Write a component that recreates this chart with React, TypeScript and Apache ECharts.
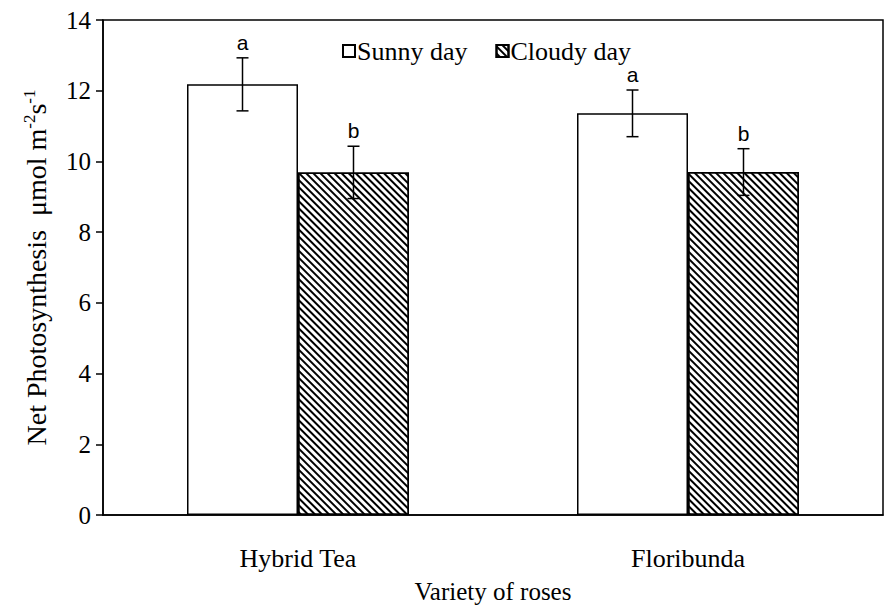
import React, { useEffect, useRef } from "react";
import * as echarts from "echarts";

const categories = ["Hybrid Tea", "Floribunda"];
const sunnyValues = [12.18, 11.36];
const sunnyErrors = [0.75, 0.66];
const sunnyLetters = ["a", "a"];
const cloudyValues = [9.69, 9.7];
const cloudyErrors = [0.74, 0.66];
const cloudyLetters = ["b", "b"];
const yTicks = { min: 0, max: 14, interval: 2 };

const SERIF = "Liberation Serif";
const SANS = "Liberation Sans";
const BAR_FRAC = 0.2846;

function errorSeries(values: number[], errors: number[], letters: string[], side: number) {
  return {
    type: "custom",
    silent: true,
    z: 10,
    data: values.map((v, i) => [i, v, errors[i]]),
    renderItem: (params: any, api: any) => {
      const idx = api.value(0);
      const v = api.value(1);
      const e = api.value(2);
      const letter = letters[params.dataIndex];
      const catW = api.size([1, 0])[0];
      const base = api.coord([idx, v]);
      const x = base[0] + side * catW * BAR_FRAC / 2;
      const top = api.coord([idx, v + e])[1];
      const bot = api.coord([idx, v - e])[1];
      const cap = 6;
      const ls = { stroke: "#000", lineWidth: 1.5 };
      return {
        type: "group",
        children: [
          { type: "line", shape: { x1: x, y1: top, x2: x, y2: bot }, style: ls },
          { type: "line", shape: { x1: x - cap, y1: top, x2: x + cap, y2: top }, style: ls },
          { type: "line", shape: { x1: x - cap, y1: bot, x2: x + cap, y2: bot }, style: ls },
          {
            type: "text",
            style: {
              text: letter,
              x: x,
              y: top - 5,
              align: "center",
              verticalAlign: "bottom",
              fontSize: 21,
              fontFamily: SANS,
              fill: "#000",
            },
          },
        ],
      };
    },
  };
}

export default function App() {
  const ref = useRef<HTMLDivElement>(null);
  useEffect(() => {
    if (!ref.current) return;
    const chart = echarts.init(ref.current, null, { renderer: "svg" });
    chart.setOption({
      animation: false,
      backgroundColor: "#fff",
      textStyle: { fontFamily: SERIF },
      grid: {
        left: 103,
        right: 4,
        top: 20,
        bottom: 94,
        outerBoundsMode: "none",
        containLabel: false,
        show: true,
        borderColor: "#000",
        borderWidth: 1.5,
        backgroundColor: "transparent",
      },
      legend: {
        data: ["Sunny day", "Cloudy day"],
        left: 337,
        top: 33,
        icon: "rect",
        itemWidth: 12,
        itemHeight: 12,
        itemGap: 28,
        textStyle: { fontFamily: SERIF, fontSize: 26, color: "#000", padding: [0, 0, 0, -3] },
      },
      xAxis: {
        type: "category",
        data: categories,
        name: "Variety of roses",
        nameLocation: "middle",
        nameGap: 64,
        nameTextStyle: { fontFamily: SERIF, fontSize: 25, color: "#000" },
        axisLine: { lineStyle: { color: "#000", width: 1.5 } },
        axisTick: { inside: true, length: 7, lineStyle: { color: "#000", width: 1.5 } },
        axisLabel: { fontFamily: SERIF, fontSize: 26, color: "#000", margin: 30 },
      },
      yAxis: {
        type: "value",
        min: yTicks.min,
        max: yTicks.max,
        interval: yTicks.interval,
        name: "Net Photosynthesis  μmol m{sup|-2}s{sup|-1}",
        nameLocation: "middle",
        nameGap: 52,
        nameTextStyle: {
          fontFamily: SERIF,
          fontSize: 28,
          color: "#000",
          rich: {
            sup: { fontFamily: SERIF, fontSize: 17, color: "#000", verticalAlign: "top", lineHeight: 30 },
          },
        },
        axisLine: { show: true, lineStyle: { color: "#000", width: 1.5 } },
        axisTick: { show: true, length: 7, lineStyle: { color: "#000", width: 1.5 } },
        axisLabel: { fontFamily: SERIF, fontSize: 25, color: "#000", margin: 12 },
        splitLine: { show: false },
      },
      series: [
        {
          name: "Sunny day",
          type: "bar",
          data: sunnyValues,
          barWidth: (BAR_FRAC * 100).toFixed(2) + "%",
          barGap: "0%",
          itemStyle: { color: "#fff", borderColor: "#000", borderWidth: 1.5 },
        },
        {
          name: "Cloudy day",
          type: "bar",
          data: cloudyValues,
          barWidth: (BAR_FRAC * 100).toFixed(2) + "%",
          barGap: "0%",
          itemStyle: {
            color: "#fff",
            borderColor: "#000",
            borderWidth: 1.5,
            decal: {
              symbol: "rect",
              symbolSize: 1,
              dashArrayX: [[1, 0]],
              dashArrayY: [1.3, 2.9],
              rotation: Math.PI / 4,
              color: "#000",
              backgroundColor: "#fff",
            },
          },
        },
        errorSeries(sunnyValues, sunnyErrors, sunnyLetters, -1),
        errorSeries(cloudyValues, cloudyErrors, cloudyLetters, 1),
      ],
    });
    return () => chart.dispose();
  }, []);
  return <div ref={ref} style={{ width: 887, height: 609, position: "absolute", left: 0, top: 0 }} />;
}
